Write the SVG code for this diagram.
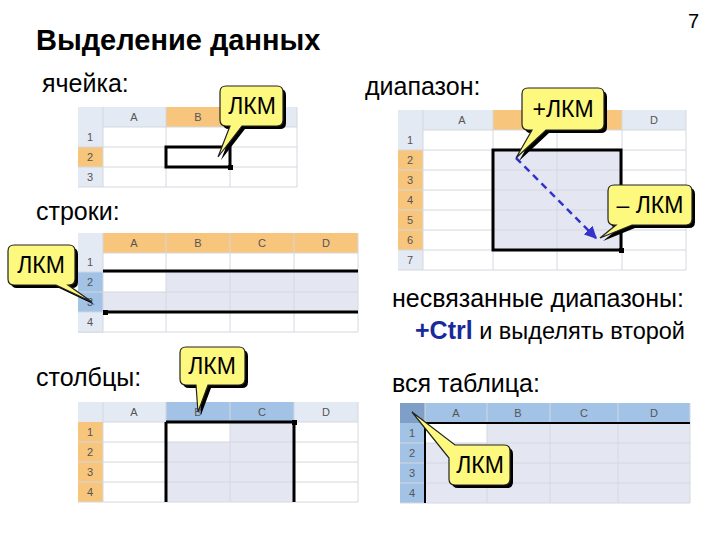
<svg xmlns="http://www.w3.org/2000/svg" width="720" height="540" viewBox="0 0 720 540">
<style>
text{font-family:"Liberation Sans",Arial,sans-serif}
.t{font-size:25px;fill:#000}
.h{font-size:11px;fill:#555;text-anchor:middle}
.hd{fill:#e3eaf4}
.og{fill:#f7c57c}
.bl{fill:#a2c2e6}
.sel{fill:#e4e7f1}
.g{stroke:#d4d8de;stroke-width:1;fill:none}
.thick{stroke:#000;stroke-width:3;fill:none}
.cb{fill:#fdf87e;stroke:#222;stroke-width:1.2}
.cs{fill:#000}
.ct{font-size:23px;fill:#000;text-anchor:middle}
</style>
<rect width="720" height="540" fill="#fff"/>
<text x="36" y="50" style="font-size:29px;font-weight:bold">Выделение данных</text>
<text x="688" y="28" style="font-size:20px">7</text>
<text x="42" y="92" class="t">ячейка:</text>
<text x="365" y="95" class="t">диапазон:</text>
<text x="36" y="220" class="t">строки:</text>
<text x="392" y="307" class="t">несвязанные диапазоны:</text>
<text x="415" y="339" class="t"><tspan style="font-weight:bold;fill:#1a2a9a">+Ctrl</tspan><tspan style="font-size:23.5px"> и выделять второй</tspan></text>
<text x="36" y="386" class="t">столбцы:</text>
<text x="392" y="392" class="t">вся таблица:</text>

<g id="table-cell">
<rect x="78" y="107" width="219" height="20" class="hd"/>
<rect x="166" y="107" width="64" height="20" class="og"/>
<rect x="78" y="127" width="25" height="60" class="hd"/>
<rect x="78" y="147" width="25" height="20" class="og"/>
<path d="M103 127H297M78 147H297M78 167H297M78 187H297M103 107V187M166 107V187M230 107V187M297 107V187" class="g"/>
<text x="134" y="121" class="h">A</text><text x="198" y="121" class="h">B</text>
<text x="90" y="141" class="h">1</text><text x="90" y="161" class="h">2</text><text x="90" y="181" class="h">3</text>
<rect x="166" y="147" width="64" height="20" class="thick" stroke-width="2.5"/>
<rect x="228" y="165" width="5" height="5"/>
</g>

<g id="table-rows">
<rect x="78" y="233" width="280" height="20" class="og"/>
<rect x="78" y="233" width="25" height="20" class="hd"/>
<rect x="78" y="253" width="25" height="80" class="hd"/>
<rect x="78" y="272" width="25" height="40" class="bl"/>
<rect x="103" y="272" width="255" height="40" class="sel"/>
<rect x="103" y="272" width="63" height="20" fill="#fff"/>
<path d="M103 253H358M78 272H358M78 292H358M78 312H358M78 332H358M103 233V332M166 233V332M230 233V332M294 233V332M358 233V332" class="g"/>
<text x="134" y="247" class="h">A</text><text x="198" y="247" class="h">B</text><text x="262" y="247" class="h">C</text><text x="326" y="247" class="h">D</text>
<text x="90" y="266" class="h">1</text><text x="90" y="286" class="h">2</text><text x="90" y="306" class="h">3</text><text x="90" y="326" class="h">4</text>
<path d="M103 271H358M103 312H358" class="thick"/>
<rect x="103" y="310" width="5" height="5"/>
</g>

<g id="table-range">
<rect x="398" y="110" width="288" height="20" class="hd"/>
<rect x="493" y="110" width="129" height="20" class="og"/>
<rect x="398" y="130" width="25" height="140" class="hd"/>
<rect x="398" y="150" width="25" height="100" class="og"/>
<rect x="493" y="150" width="128" height="100" class="sel"/>
<path d="M423 130H686M398 150H686M398 170H686M398 190H686M398 210H686M398 230H686M398 250H686M398 270H686M423 110V270M493 110V270M557 110V270M622 110V270M686 110V270" class="g"/>
<text x="462" y="124" class="h">A</text><text x="654" y="124" class="h">D</text>
<text x="410" y="144" class="h">1</text><text x="410" y="164" class="h">2</text><text x="410" y="184" class="h">3</text><text x="410" y="204" class="h">4</text><text x="410" y="224" class="h">5</text><text x="410" y="244" class="h">6</text><text x="410" y="264" class="h">7</text>
<rect x="493" y="150" width="128" height="100" class="thick" stroke-width="2.5"/>
<rect x="619" y="248" width="5" height="5"/>
</g>

<g id="table-columns">
<rect x="78" y="402" width="280" height="20" class="hd"/>
<rect x="166" y="402" width="128" height="20" class="bl"/>
<rect x="78" y="422" width="25" height="80" class="og"/>
<rect x="166" y="422" width="128" height="80" class="sel"/>
<rect x="166" y="422" width="64" height="20" fill="#fff"/>
<path d="M103 422H358M78 442H358M78 462H358M78 482H358M78 502H358M103 402V502M166 402V502M230 402V502M294 402V502M358 402V502" class="g"/>
<text x="134" y="416" class="h">A</text><text x="198" y="416" class="h">B</text><text x="262" y="416" class="h">C</text><text x="326" y="416" class="h">D</text>
<text x="90" y="436" class="h">1</text><text x="90" y="456" class="h">2</text><text x="90" y="476" class="h">3</text><text x="90" y="496" class="h">4</text>
<path d="M166 422V502M294 422V502M166 422H294" class="thick"/>
<rect x="292" y="420" width="5" height="5"/>
</g>

<g id="table-all">
<rect x="400" y="403" width="290" height="20" class="bl"/>
<rect x="400" y="403" width="25" height="20" fill="#7f9fc6"/>
<rect x="400" y="423" width="25" height="80" class="bl"/>
<rect x="425" y="423" width="265" height="80" class="sel"/>
<rect x="425" y="423" width="62" height="20" fill="#fff"/>
<path d="M425 423H690M400 443H690M400 463H690M400 483H690M400 503H690M425 403V503M487 403V503M550 403V503M618 403V503M690 403V503" class="g"/>
<text x="456" y="417" class="h">A</text><text x="518" y="417" class="h">B</text><text x="584" y="417" class="h">C</text><text x="654" y="417" class="h">D</text>
<text x="412" y="437" class="h">1</text><text x="412" y="457" class="h">2</text><text x="412" y="477" class="h">3</text><text x="412" y="497" class="h">4</text>
<path d="M425 423H690M425 423V503" stroke="#000" stroke-width="2"/>
</g>

<g id="connectors">
<defs><marker id="ah" viewBox="0 0 10 10" refX="9" refY="5" markerWidth="5" markerHeight="5" orient="auto"><path d="M0 0L10 5L0 10Z" fill="#3333cc"/></marker></defs>
<path d="M516 158L596 238" stroke="#3333cc" stroke-width="2.5" stroke-dasharray="7 5" marker-end="url(#ah)"/>
</g>

<g id="callout-cell">
<path transform="translate(3,3)" class="cs" d="M226 86H277Q283 86 283 92V120Q283 126 277 126H242L218 157L230 126H226Q220 126 220 120V92Q220 86 226 86Z"/>
<path class="cb" d="M226 86H277Q283 86 283 92V120Q283 126 277 126H242L218 157L230 126H226Q220 126 220 120V92Q220 86 226 86Z"/>
<text x="252" y="114" class="ct">ЛКМ</text>
</g>
<g id="callout-rows">
<path transform="translate(3,3)" class="cs" d="M14 245H69Q75 245 75 251V279Q75 285 69 285H68L92 302L56 285H14Q8 285 8 279V251Q8 245 14 245Z"/>
<path class="cb" d="M14 245H69Q75 245 75 251V279Q75 285 69 285H68L92 302L56 285H14Q8 285 8 279V251Q8 245 14 245Z"/>
<text x="41" y="273" class="ct">ЛКМ</text>
</g>
<g id="callout-plus">
<path transform="translate(3,3)" class="cs" d="M528 88H598Q604 88 604 94V124Q604 130 598 130H546L516 158L532 130H528Q522 130 522 124V94Q522 88 528 88Z"/>
<path class="cb" d="M528 88H598Q604 88 604 94V124Q604 130 598 130H546L516 158L532 130H528Q522 130 522 124V94Q522 88 528 88Z"/>
<text x="563" y="117" class="ct">+ЛКМ</text>
</g>
<g id="callout-minus">
<path transform="translate(3,3)" class="cs" d="M614 185H686Q692 185 692 191V219Q692 225 686 225H632L600 238L616 225H614Q608 225 608 219V191Q608 185 614 185Z"/>
<path class="cb" d="M614 185H686Q692 185 692 191V219Q692 225 686 225H632L600 238L616 225H614Q608 225 608 219V191Q608 185 614 185Z"/>
<text x="650" y="213" class="ct">– ЛКМ</text>
</g>
<g id="callout-columns">
<path transform="translate(3,3)" class="cs" d="M186 347H239Q245 347 245 353V379Q245 385 239 385H208L198 412L196 385H186Q180 385 180 379V353Q180 347 186 347Z"/>
<path class="cb" d="M186 347H239Q245 347 245 353V379Q245 385 239 385H208L198 412L196 385H186Q180 385 180 379V353Q180 347 186 347Z"/>
<text x="212" y="374" class="ct">ЛКМ</text>
</g>
<g id="callout-all">
<path transform="translate(3,3)" class="cs" d="M455 445H504Q510 445 510 451V479Q510 485 504 485H455Q449 485 449 479V458L412 412L455 445Z"/>
<path class="cb" d="M455 445H504Q510 445 510 451V479Q510 485 504 485H455Q449 485 449 479V458L412 412L455 445Z"/>
<text x="480" y="473" class="ct">ЛКМ</text>
</g>
</svg>
